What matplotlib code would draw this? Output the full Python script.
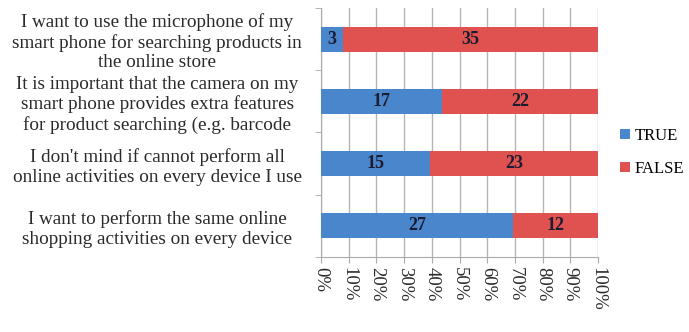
import numpy as np
import matplotlib.pyplot as plt
from matplotlib.ticker import FuncFormatter

# survey statements, top to bottom
questions = [
    "I want to use the microphone of my\nsmart phone for searching products in\nthe online store",
    "It is important that the camera on my\nsmart phone provides extra features\nfor product searching (e.g. barcode",
    "I don't mind if cannot perform all\nonline activities on every device I use",
    "I want to perform the same online\nshopping activities on every device",
]
true_counts = [3, 17, 15, 27]
false_counts = [35, 22, 23, 12]
series_names = ["TRUE", "FALSE"]

plt.rcParams['font.family'] = ['Liberation Serif', 'DejaVu Serif']

tr = np.array(true_counts, dtype=float)
fa = np.array(false_counts, dtype=float)
tot = tr + fa
tr_pct = tr / tot
fa_pct = fa / tot

fig = plt.figure(figsize=(6.89, 3.32), dpi=100)
ax = fig.add_axes([0.466, 0.226, 0.402, 0.750])

y = np.arange(len(questions))
blue = '#4a86cb'
red = '#e0524f'
b1 = ax.barh(y, tr_pct, height=0.4, color=blue, label=series_names[0], zorder=3)
b2 = ax.barh(y, fa_pct, left=tr_pct, height=0.4, color=red, label=series_names[1], zorder=3)

for bars, vals in ((b1, true_counts), (b2, false_counts)):
    for rect, v in zip(bars, vals):
        ax.text(rect.get_x() + rect.get_width() / 2, rect.get_y() + rect.get_height() / 2,
                str(v), ha='center', va='center', fontsize=13, color='#1c1c30',
                fontweight='bold', zorder=4)

ax.set_ylim(len(questions) - 0.5, -0.5)
ax.set_xlim(0, 1)
ax.set_xticks(np.arange(0, 1.01, 0.1))
ax.xaxis.set_major_formatter(FuncFormatter(lambda v, p: "%d%%" % round(v * 100)))
for lbl in ax.get_xticklabels():
    lbl.set_rotation(-90)
    lbl.set_fontsize(13.5)
    lbl.set_color('#2a2a2a')

ax.set_yticks(y)
ax.set_yticklabels(questions, fontsize=13.8, color='#2a2a2a', ha='center',
                   multialignment='center', linespacing=1.2)
ax.tick_params(axis='y', length=0, pad=118)
# boundary ticks between categories
ax.set_yticks(np.arange(-0.5, len(questions), 1.0), minor=True)
ax.tick_params(axis='y', which='minor', length=4, color='#aaaaaa')
ax.tick_params(axis='x', length=4, color='#aaaaaa', pad=3)

ax.grid(axis='x', color='#b5b5b5', linewidth=1, zorder=0)
for s in ['top', 'right']:
    ax.spines[s].set_visible(False)
ax.spines['left'].set_color('#aaaaaa')
ax.spines['bottom'].set_color('#aaaaaa')

ax.legend(loc='center left', bbox_to_anchor=(1.055, 0.42), frameon=False, fontsize=12,
          handlelength=0.6, handleheight=0.6, handletextpad=0.3, labelspacing=1.0,
          borderaxespad=0)

fig.savefig('out.png', dpi=100)
